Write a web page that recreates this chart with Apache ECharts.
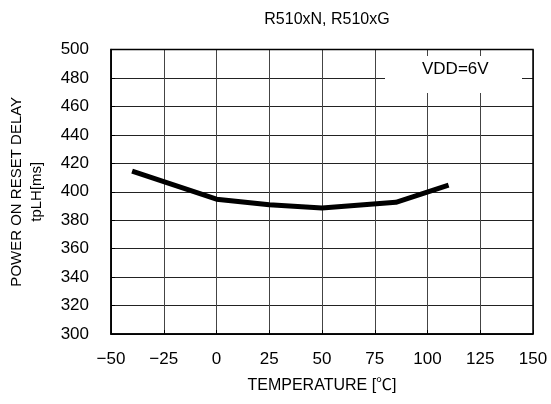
<!DOCTYPE html>
<html>
<head>
<meta charset="utf-8">
<script src="https://cdn.jsdelivr.net/npm/echarts@6/dist/echarts.min.js"></script>
<style>
html, body { margin: 0; padding: 0; background: #fff; }
#main { width: 551px; height: 404px; }
</style>
</head>
<body>
<div id="main"></div>
<script>
// temperature (°C) vs delay (ms)
var temps = [-40, 0, 25, 50, 85, 110];
var delays = [414.5, 394.8, 390.8, 388.5, 392.6, 404.6];
var xTicks = [-50, -25, 0, 25, 50, 75, 100, 125, 150];
var yTicks = [300, 320, 340, 360, 380, 400, 420, 440, 460, 480, 500];

var font = "'Liberation Sans', 'Noto Sans CJK JP', sans-serif";

var myChart = echarts.init(document.getElementById('main'));

var points = [];
for (var i = 0; i < temps.length; i++) {
    points.push([temps[i], delays[i]]);
}

var option = {
    animation: false,
    title: {
        text: 'R510xN, R510xG',
        left: 322,
        textAlign: 'center',
        top: 7,
        textStyle: { fontFamily: font, fontWeight: 'normal', fontSize: 16, color: '#000' }
    },
    grid: { left: 111, right: 18, top: 49.5, bottom: 70, containLabel: false, outerBoundsMode: 'none' },
    xAxis: {
        type: 'value',
        min: xTicks[0],
        max: xTicks[xTicks.length - 1],
        interval: 25,
        name: 'TEMPERATURE [℃]',
        nameLocation: 'middle',
        nameGap: 44,
        nameTextStyle: { fontFamily: font, fontSize: 16, color: '#000' },
        axisLine: { show: true, onZero: false, lineStyle: { color: '#000', width: 1.5 } },
        axisTick: { show: true, inside: true, length: 4, lineStyle: { color: '#000' } },
        axisLabel: {
            fontFamily: font, fontSize: 17, color: '#000', margin: 17,
            formatter: function (v) { return v < 0 ? '\u2212' + (-v) : '' + v; }
        },
        splitLine: { show: true, lineStyle: { color: '#444', width: 1 } }
    },
    yAxis: {
        type: 'value',
        min: yTicks[0],
        max: yTicks[yTicks.length - 1],
        interval: 20,
        name: 'POWER ON RESET DELAY\ntpLH[ms]',
        nameLocation: 'middle',
        nameRotate: 90,
        nameGap: 64,
        nameTextStyle: { fontFamily: font, fontSize: 15, color: '#000', lineHeight: 20 },
        axisLine: { show: true, onZero: false, lineStyle: { color: '#000', width: 1.5 } },
        axisTick: { show: true, inside: true, length: 4, lineStyle: { color: '#000' } },
        axisLabel: { fontFamily: font, fontSize: 17, color: '#000', margin: 22 },
        splitLine: { show: true, lineStyle: { color: '#222', width: 1 } }
    },
    graphic: [
        {
            type: 'rect',
            shape: { x: 385, y: 56, width: 137, height: 37 },
            style: { fill: '#fff' },
            z: 5
        },
        {
            type: 'text',
            left: 422,
            top: 61,
            style: { text: 'VDD=6V', font: '17px ' + font, fill: '#000' },
            z: 6
        },
        {
            type: 'rect',
            shape: { x: 111, y: 49.5, width: 422, height: 284.5 },
            style: { fill: 'none', stroke: '#000', lineWidth: 1.5 },
            z: 7
        }
    ],
    series: [
        {
            type: 'line',
            data: points,
            symbol: 'none',
            lineStyle: { color: '#000', width: 5 },
            z: 10
        }
    ]
};

myChart.setOption(option);
</script>
</body>
</html>
